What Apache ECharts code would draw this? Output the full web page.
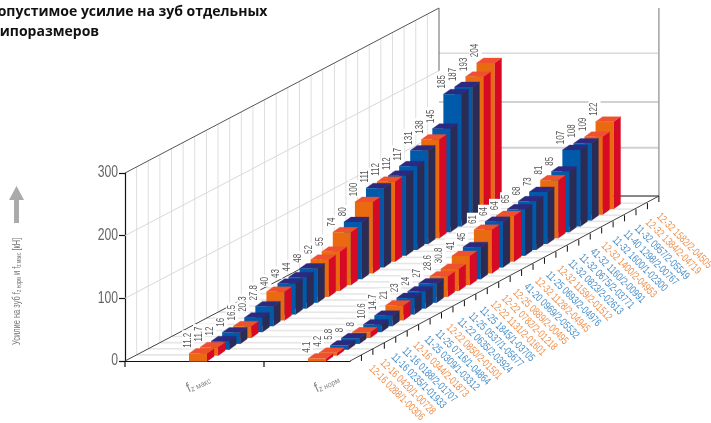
<!DOCTYPE html>
<html><head><meta charset="utf-8">
<style>html,body{margin:0;padding:0;background:#fff}#c{width:711px;height:423px}</style>
<script src="https://cdn.jsdelivr.net/npm/echarts@6/dist/echarts.min.js"></script></head>
<body><div id="c"></div>
<script>
const titleLines = ['Допустимое усилие на зуб отдельных', 'типоразмеров'];
const rowNames = ['макс', 'норм'];
const sizeLabels = [
 '12-16 0288/1-00306','12-16 0420/1-00728','11-16 0235/1-01933','11-16 0188/2-01707','12-16 0344/2-01873',
 '11-25 0309/1-03312','11-25 0716/1-04864','12-22 0850/2-01501','11-22 0635/2-03924','11-25 0537/1-05677',
 '11-25 1845/1-03705','12-22 1131/2-01601','12-22 0782/2-01218','12-25 0889/2-00495','41-20 0969/2-05532',
 '12-32 1128/2-04945','11-25 0693/2-04976','12-32 1159/2-01512','11-32 0823/2-02613','11-32 0675/2-03771',
 '41-32 1160/2-00991','12-32 1400/2-04953','11-32 1600/1-02300','11-40 1298/2-00767','11-32 0957/2-05549',
 '12-32 1384/2-04719','12-32 1582/2-04505'];
const fMax = [11.2,11.7,12,16,16.5,20.3,27.8,40,43,44,48,52,55,74,80,100,111,112,112,117,131,138,145,185,187,193,204];
const fNorm = [4.1,4.2,5.8,8,8,10.6,14.7,21,23,24,27,28.6,30.8,41,45,61,64,64,65,68,73,81,85,107,108,109,122];
const yTicks = [0,100,200,300];

const FONT = '"Liberation Sans",sans-serif';
const ORANGE = {front:'#e96a10', side:'#d60a25', top:'#ee5030', text:'#f0914f'};
const BLUE = {front:'#0059a9', side:'#2c2b55', top:'#2c2a80', text:'#4a8fc9'};
const STEP_X = 11.06, STEP_Y = 5.87;
const LEFT_X = 11.63, LEFT_Y = 6.11, RIGHT_X = 11.44, RIGHT_Y = 6.07;
const N = sizeLabels.length;
const BAR_W = 18, D_X = 7, D_Y = 5;
const rowShift = [16.75, 23.25];
const barScale = 0.715/0.6267;
const FLOOR_W = 225;

function isOrange(i){ return sizeLabels[i].startsWith('12'); }
const barData = [];
for (let k = N-1; k >= 0; k--) { barData.push([0,k,fMax[k]]); barData.push([1,k,fNorm[k]]); }
const axisData = sizeLabels.map((s,i)=>[i]);

const line = (x1,y1,x2,y2,stroke,lw)=>({type:'line',shape:{x1,y1,x2,y2},style:{stroke,lineWidth:lw,fill:null},silent:true});

function wallItem(params, api){
  const o = api.coord([0,0]), t = api.coord([0,300]);
  const x0=o[0]-FLOOR_W/4, y0=o[1];
  const ppu = (y0-t[1])/300;
  const depthX = LEFT_X*N, depthY = LEFT_Y*N;
  const rx=x0+FLOOR_W;
  const ch=[];
  for(let k=1;k<N;k++){
    ch.push(line(x0+LEFT_X*k,y0-LEFT_Y*k,rx+RIGHT_X*k,y0-RIGHT_Y*k,'#e6e6e6',1.6));
  }
  for(let k=1;k<N;k++){
    ch.push(line(x0+LEFT_X*k,y0-LEFT_Y*k,x0+LEFT_X*k,t[1]-LEFT_Y*k,'#dedede',1));
  }
  [100,200].forEach(v=>ch.push(line(x0,y0-v*ppu,x0+depthX,y0-v*ppu-depthY,'#dcd8d4',1)));
  const bx0=x0+depthX, bx1=rx+RIGHT_X*N, by=y0-depthY;
  [[228,1,'#c8c8c8'],[150,2,'#d2d0d0'],[77,2,'#d2d0d0']].forEach(a=>ch.push(line(bx0,by-a[0]*ppu,bx1,by-a[0]*ppu,a[2],a[1])));
  ch.push(line(bx1,by-300*ppu,bx1,by,'#a8a8a8',1.6));
  ch.push(line(bx0,by-300*ppu,bx0,by-200*ppu,'#666',1));
  ch.push(line(bx0+170,by,bx1,by,'#111',1));
  ch.push(line(bx1,by,bx1,by+6,'#111',1));
  ch.push(line(x0,t[1],x0+depthX,t[1]-depthY,'#555',1));
  ch.push(line(x0,y0,x0+depthX,y0-depthY,'#444',1));
  ch.push(line(rx,y0,bx1,by,'#444',1));
  for(let k=1;k<N;k++){
    const tx=rx+RIGHT_X*k, ty=y0-RIGHT_Y*k;
    ch.push(line(tx,ty,tx,ty+6,'#111',1));
  }
  ch.push(line(x0,y0,x0,y0+6,'#111',1.2));
  ch.push(line(x0+139,y0,x0+139,y0+6,'#111',1.2));
  yTicks.forEach(v=>{
    const p=api.coord([0,v]);
    ch.push({type:'text',x:x0-7,y:p[1],scaleX:0.76,
      style:{text:String(v),fill:'#666',font:'16px '+FONT,align:'right',verticalAlign:'middle'}});
  });
  return {type:'group',children:ch};
}

function barItem(params, api){
  const row=api.value(0), k=api.value(1), v=api.value(2);
  const c=api.coord([row,0]);
  const hh=(c[1]-api.coord([row,v])[1])*barScale;
  const x=c[0]+rowShift[row]+STEP_X*k-BAR_W/2;
  const yb=c[1]-STEP_Y*k+0.5;
  const yt=yb-hh;
  const col=isOrange(k)?ORANGE:BLUE;
  const poly=(pts,fill)=>({type:'polygon',shape:{points:pts},style:{fill,stroke:fill,lineWidth:0.3}});
  return {type:'group',children:[
    poly([[x+BAR_W,yb],[x+BAR_W+D_X,yb-D_Y],[x+BAR_W+D_X,yt-D_Y],[x+BAR_W,yt]],col.side),
    poly([[x,yt],[x+BAR_W,yt],[x+BAR_W+D_X,yt-D_Y],[x+D_X,yt-D_Y]],col.top),
    {type:'rect',shape:{x,y:yt,width:BAR_W,height:hh},style:{fill:col.front}},
    {type:'text',x:x-1,y:yt-5,rotation:Math.PI/2,scaleX:0.8,
     style:{text:String(v),fill:'#555',font:'10px '+FONT,align:'left',verticalAlign:'middle',
      backgroundColor:'#fff',padding:[1,3,1,1]}}
  ]};
}

function labelItem(params, api){
  const k=api.value(0);
  const c=api.coord([1,0]);
  const col=isOrange(k)?ORANGE:BLUE;
  return {type:'text',x:c[0]+77+STEP_X*k,y:c[1]+6-5.85*k,rotation:-Math.PI/4,scaleX:0.74,
    style:{text:sizeLabels[k],fill:col.text,font:'11px '+FONT,align:'left',verticalAlign:'middle'}};
}

const chart=echarts.init(document.getElementById('c'),null,{renderer:'canvas'});
chart.setOption({
  animation:false,
  backgroundColor:'#fff',
  grid:{left:125,top:173,width:225,height:188,containLabel:false},
  xAxis:{type:'category',data:rowNames,boundaryGap:true,
    axisLine:{lineStyle:{color:'#111',width:1.2}},axisTick:{show:false},axisLabel:{show:false},splitLine:{show:false}},
  yAxis:{type:'value',min:0,max:300,interval:100,
    axisLine:{show:true,lineStyle:{color:'#111',width:1.2}},axisTick:{show:true,length:6,lineStyle:{color:'#111',width:1.2}},
    axisLabel:{show:false},splitLine:{show:false}},
  graphic:[
    {type:'text',x:-13,y:5,style:{text:titleLines[0],font:'bold 14px "Open Sans"',fill:'#111'}},
    {type:'text',x:-8,y:25,style:{text:titleLines[1],font:'bold 14px "Open Sans"',fill:'#111'}},
    {type:'polygon',shape:{points:[[16.5,186],[24,200],[19,200],[19,223],[14,223],[14,200],[9,200]]},style:{fill:'#aaaaaa'}},
    {type:'text',x:17,y:345,rotation:Math.PI/2,scaleX:0.68,
     style:{text:'Усилие на зуб f{s|z норм} и f{s|z макс} [кН]',font:'11px '+FONT,fill:'#777',align:'left',verticalAlign:'middle',
       rich:{s:{font:'7px '+FONT,fill:'#777',padding:[4,0,0,0]}}}},
    {type:'text',x:187,y:389,rotation:25*Math.PI/180,scaleX:0.9,
     style:{text:'f{s|z макс}',font:'14px '+FONT,fill:'#888',align:'left',verticalAlign:'middle',rich:{s:{font:'8px '+FONT,fill:'#888',padding:[5,0,0,0]}}}},
    {type:'text',x:315,y:389,rotation:25*Math.PI/180,scaleX:0.9,
     style:{text:'f{s|z норм}',font:'14px '+FONT,fill:'#888',align:'left',verticalAlign:'middle',rich:{s:{font:'8px '+FONT,fill:'#888',padding:[5,0,0,0]}}}}
  ],
  series:[
    {type:'custom',name:'walls',coordinateSystem:'cartesian2d',renderItem:wallItem,data:[[0,0]],silent:true,z:1,clip:false},
    {type:'custom',name:'bars',coordinateSystem:'cartesian2d',renderItem:barItem,
      encode:{x:0,y:2},data:barData,silent:true,z:3,clip:false},
    {type:'custom',name:'labels',coordinateSystem:'cartesian2d',renderItem:labelItem,
      encode:{x:-1,y:-1},data:axisData,silent:true,z:3,clip:false}
  ]
});
</script></body></html>
